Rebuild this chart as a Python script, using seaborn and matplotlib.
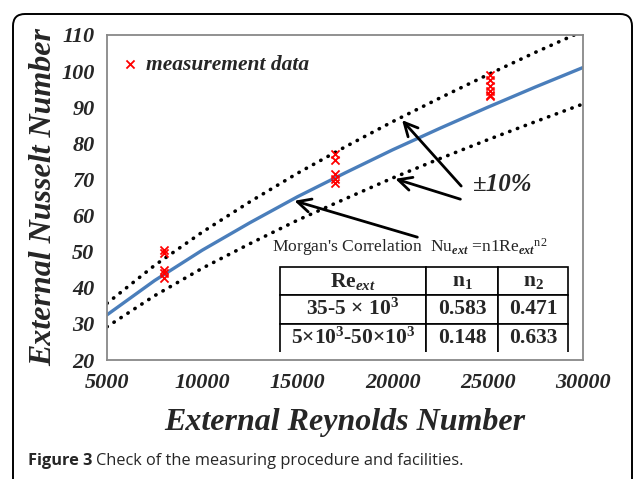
import matplotlib
matplotlib.use("Agg")
import matplotlib.pyplot as plt
import seaborn as sns
from matplotlib.patches import FancyBboxPatch
from matplotlib.transforms import IdentityTransform

# correlation curve (Nu = 0.148 Re^0.633) and the +/-10% band
re_grid = [5000, 7500, 10000, 12500, 15000, 17500, 20000, 22500, 25000, 27500, 30000]
nu_corr = [32.5, 42.0, 50.4, 58.0, 65.2, 71.8, 78.2, 84.2, 90.0, 95.6, 101.0]
nu_upper = [35.7, 46.2, 55.4, 63.8, 71.7, 79.0, 86.0, 92.6, 99.0, 105.2, 111.1]
nu_lower = [29.2, 37.8, 45.4, 52.2, 58.7, 64.6, 70.4, 75.8, 81.0, 86.0, 90.9]

# measurement points
meas_re = [8000] * 5 + [17000] * 5 + [25100] * 6
meas_nu = [50.5, 49.5, 45.0, 44.0, 42.8,
           77.0, 75.5, 71.5, 70.0, 69.0,
           98.8, 97.5, 96.0, 94.5, 93.5, 93.0]

# table of Morgan's correlation
tab_head = [r"Re$_{\mathit{ext}}$", r"n$_{\mathbf{1}}$", r"n$_{\mathbf{2}}$"]
tab_rows = [[r"35-5 × 10$^{\mathbf{3}}$", "0.583", "0.471"],
            [r"5×10$^{\mathbf{3}}$-50×10$^{\mathbf{3}}$", "0.148", "0.633"]]

x_ticks = [5000, 10000, 15000, 20000, 25000, 30000]
y_ticks = [20, 30, 40, 50, 60, 70, 80, 90, 100, 110]

sns.set_style("white")
plt.rcParams['font.family'] = ['Liberation Serif', 'DejaVu Serif']
plt.rcParams['mathtext.fontset'] = 'custom'
plt.rcParams['mathtext.rm'] = 'Liberation Serif'
plt.rcParams['mathtext.it'] = 'Liberation Serif:italic:bold'
plt.rcParams['mathtext.bf'] = 'Liberation Serif:bold'

fig = plt.figure(figsize=(6.34, 4.79), dpi=100)
ax = fig.add_axes([107 / 634, 119 / 479, 476 / 634, 325 / 479])

sns.lineplot(x=re_grid, y=nu_corr, ax=ax, color='#4a7ebb', linewidth=2.4)
dots = dict(color='black', linewidth=2.6, linestyle=(0, (0.1, 2.2)), dash_capstyle='round')
sns.lineplot(x=re_grid, y=nu_upper, ax=ax, **dots)
sns.lineplot(x=re_grid, y=nu_lower, ax=ax, **dots)
sns.scatterplot(x=meas_re, y=meas_nu, ax=ax, marker='x', color='red', s=34,
                linewidth=1.3, label='measurement data', zorder=5)

ax.set_xlim(5000, 30000)
ax.set_ylim(20, 110)
ax.set_xticks(x_ticks)
ax.set_yticks(y_ticks)
tick_font = dict(family='Liberation Serif', weight='bold', style='italic', size=16)
ax.set_xticklabels([str(t) for t in x_ticks], fontdict=tick_font)
ax.set_yticklabels([str(t) for t in y_ticks], fontdict=tick_font)
ax.tick_params(length=0, pad=9)
for s in ax.spines.values():
    s.set_color('#888888')
    s.set_linewidth(1.3)

lab_font = dict(family='Liberation Serif', weight='bold', style='italic', size=23)
ax.set_xlabel('External Reynolds Number', fontdict=lab_font, labelpad=11)
ax.set_ylabel('External Nusselt Number', fontdict=lab_font, labelpad=2)

leg = ax.legend(loc='upper left', bbox_to_anchor=(-0.005, 0.985), frameon=False,
                handletextpad=0.2, handlelength=1.0, borderpad=0.2,
                prop=dict(family='Liberation Serif', weight='bold', style='italic', size=15.5))

# arrows
arrow = dict(arrowstyle='->', color='black', lw=2, mutation_scale=24)
ax.annotate('', xy=(20400, 87.0), xytext=(23700, 67.6), arrowprops=arrow)
ax.annotate('', xy=(20000, 70.4), xytext=(23700, 64.3), arrowprops=arrow)
ax.annotate('', xy=(14700, 64.3), xytext=(21440, 53.8), arrowprops=arrow)
ax.text(24200, 68.5, '±10%', ha='left', va='center', fontsize=18,
        fontweight='bold', fontstyle='italic')
ax.text(13650, 51.3,
        r"Morgan's Correlation  Nu$_{\mathit{ext}}$ =n1Re$_{\mathit{ext}}{}^{\mathrm{n2}}$",
        ha='left', va='center', fontsize=12.6)

tab = ax.table(cellText=tab_rows, colLabels=tab_head, cellLoc='center',
               colWidths=[0.507, 0.25, 0.243],
               bbox=[(280 - 107) / 476, (360 - 352) / 325, 288 / 476, 85 / 325])
tab.auto_set_font_size(False)
for (r, c), cell in tab.get_celld().items():
    cell.set_linewidth(1.2)
    cell.set_edgecolor('black')
    cell.get_text().set_fontsize(15.5)
    cell.get_text().set_fontweight('bold')
    if r == 2:
        cell.visible_edges = 'LTR'

# outer frame and caption
frame = FancyBboxPatch((13, -40), 619, 505, boxstyle='round,pad=0,rounding_size=12',
                       transform=IdentityTransform(), fill=False, edgecolor='black',
                       linewidth=1.4, clip_on=False)
fig.patches.append(frame)

t1 = fig.text(28 / 634, 1 - 461 / 479, 'Figure 3', family='Open Sans', weight='bold',
              fontsize=11.8, va='center', ha='left')
fig.canvas.draw()
bb = t1.get_window_extent()
fig.text((bb.x1 + 4) / 634, 1 - 461 / 479, 'Check of the measuring procedure and facilities.',
         family='Open Sans', fontsize=11.8, va='center', ha='left')

fig.savefig('out.png', dpi=100)
